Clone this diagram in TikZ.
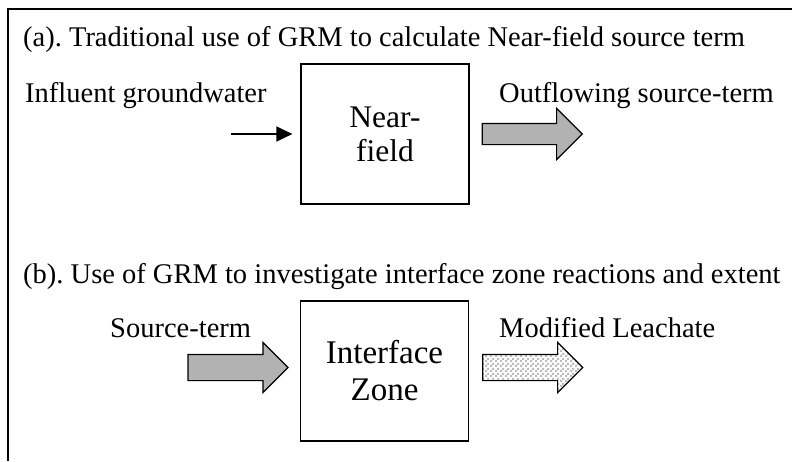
\documentclass[tikz,border=0pt]{standalone}
\usepackage{fontspec}
\setmainfont{Liberation Serif}
\usetikzlibrary{arrows.meta,positioning,shapes.arrows,patterns}
\definecolor{arrgray}{RGB}{178,178,178}
\definecolor{chkgray}{RGB}{188,188,188}
\pgfdeclarepatternformonly{finecheck}{\pgfpointorigin}{\pgfpoint{5pt}{5pt}}{\pgfpoint{5pt}{5pt}}{%
  \pgfpathrectangle{\pgfpointorigin}{\pgfpoint{2.5pt}{2.5pt}}%
  \pgfpathrectangle{\pgfpoint{2.5pt}{2.5pt}}{\pgfpoint{2.5pt}{2.5pt}}%
  \pgfusepath{fill}}
\tikzset{
  lbl/.style={anchor=base west, inner sep=0pt, font=\fontsize{28.5}{32}\selectfont},
  zonebox/.style={draw, line width=1.2pt, minimum width=168pt, minimum height=140pt,
    align=center, inner sep=0pt},
  bigarrow/.style={single arrow, draw, line width=1.2pt, inner xsep=0pt,
    minimum height=100pt},
}
\frenchspacing

\begin{document}
\begin{tikzpicture}[x=1pt, y=-1pt]
\useasboundingbox (0,0) rectangle (792,461);
% Frame
\draw[line width=1.3pt] (792,9) -- (8,9) -- (8,461);

% (a) Near-field
\node[lbl] (titlea) at (23,46) {(a). Traditional use of GRM to calculate Near-field source term};
\node[lbl] (influent) at (25,102) {Influent groundwater};
\node[zonebox, font=\fontsize{31.5}{34}\selectfont] (nearfield) at (385,134) {Near-\\field};
\coordinate (instart) at (231,134);
\draw[line width=1.3pt, -{Triangle[length=16pt,width=15pt]}, shorten >=8pt] (instart) -- (nearfield);
\node[bigarrow, fill=arrgray, inner ysep=10pt, single arrow head extend=15pt,
      anchor=west, right=12pt of nearfield] (outarrow) {};
\node[lbl] (outlabel) at (499,102) {Outflowing source-term};

% (b) Interface zone
\node[lbl] (titleb) at (23,283) {(b). Use of GRM to investigate interface zone reactions and extent};
\node[lbl] (srclabel) at (110,337) {Source-term};
\node[zonebox, font=\fontsize{33}{37}\selectfont] (interface) at (384.5,371) {Interface\\Zone};
\node[bigarrow, fill=arrgray, inner ysep=12.5pt, single arrow head extend=12pt,
      left=11pt of interface, yshift=3.5pt] (srcarrow) {};
\node[bigarrow, pattern=finecheck, pattern color=chkgray, inner ysep=12.5pt,
      single arrow head extend=12pt, right=13pt of interface, yshift=3.5pt] (leacharrow) {};
\node[lbl] (leachlabel) at (499,337) {Modified Leachate};
\end{tikzpicture}
\end{document}
